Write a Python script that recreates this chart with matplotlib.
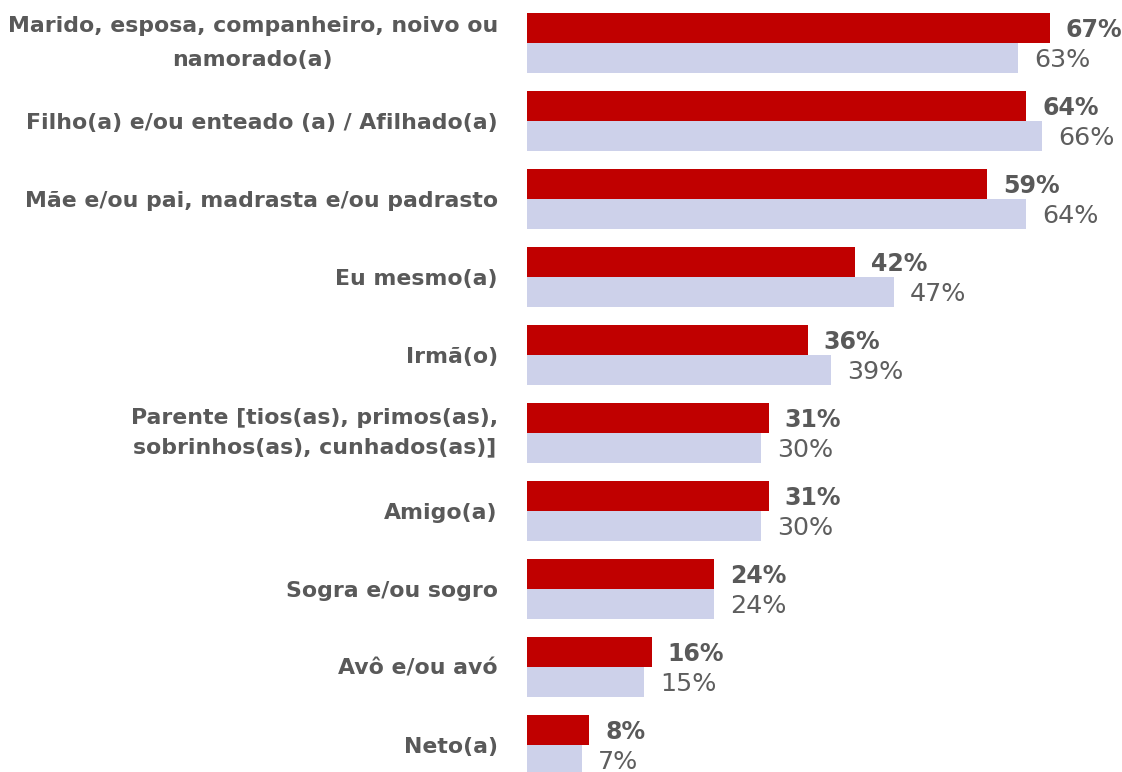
import matplotlib
matplotlib.use("Agg")
import matplotlib.pyplot as plt
import numpy as np

categories = [
    "Marido, esposa, companheiro, noivo ou\nnamorado(a)",
    "Filho(a) e/ou enteado (a) / Afilhado(a)",
    "Mãe e/ou pai, madrasta e/ou padrasto",
    "Eu mesmo(a)",
    "Irmã(o)",
    "Parente [tios(as), primos(as),\nsobrinhos(as), cunhados(as)]",
    "Amigo(a)",
    "Sogra e/ou sogro",
    "Avô e/ou avó",
    "Neto(a)",
]
series_red = [67, 64, 59, 42, 36, 31, 31, 24, 16, 8]
series_light = [63, 66, 64, 47, 39, 30, 30, 24, 15, 7]

RED = "#C00000"
LIGHT = "#CDD1EA"
TXT = "#595959"
FONT = ["DejaVu Sans"]

fig = plt.figure(figsize=(11.22, 7.72), dpi=100)
ax_left = 527 / 1122
px_per_unit = 7.8
xmax = 75
ax_w = xmax * px_per_unit / 1122
ax = fig.add_axes([ax_left, 0, ax_w, 1])

y = np.arange(len(categories))
h = 0.385
ax.barh(y - h / 2, series_red, height=h, color=RED)
ax.barh(y + h / 2, series_light, height=h, color=LIGHT)

for yi, v in zip(y - h / 2, series_red):
    ax.annotate(f"{v}%", (v, yi), xytext=(11.5, -1.5), textcoords="offset points",
                ha="left", va="center", color=TXT, fontsize=17,
                fontweight="bold", family=FONT)
for yi, v in zip(y + h / 2, series_light):
    ax.annotate(f"{v}%", (v, yi), xytext=(11.5, -1.5), textcoords="offset points",
                ha="left", va="center", color="#5e5e5e", fontsize=18.3,
                fontweight="normal", family=FONT)

ax.set_xlim(0, xmax)
ax.set_ylim(9 + 27 / 78, -43 / 78)
ax.set_yticks(y)
ax.set_yticklabels(categories, fontsize=15.8, fontweight="bold", color=TXT,
                   family=FONT, multialignment="center")
for i, lab in enumerate(ax.get_yticklabels()):
    if "\n" in lab.get_text():
        lab.set_verticalalignment("center")
        lab.set_linespacing(1.85 if i == 0 else 1.6)
ax.tick_params(axis="y", length=0, pad=21)
ax.tick_params(axis="x", bottom=False, labelbottom=False)
for s in ax.spines.values():
    s.set_visible(False)

fig.savefig("out.png", dpi=100)
